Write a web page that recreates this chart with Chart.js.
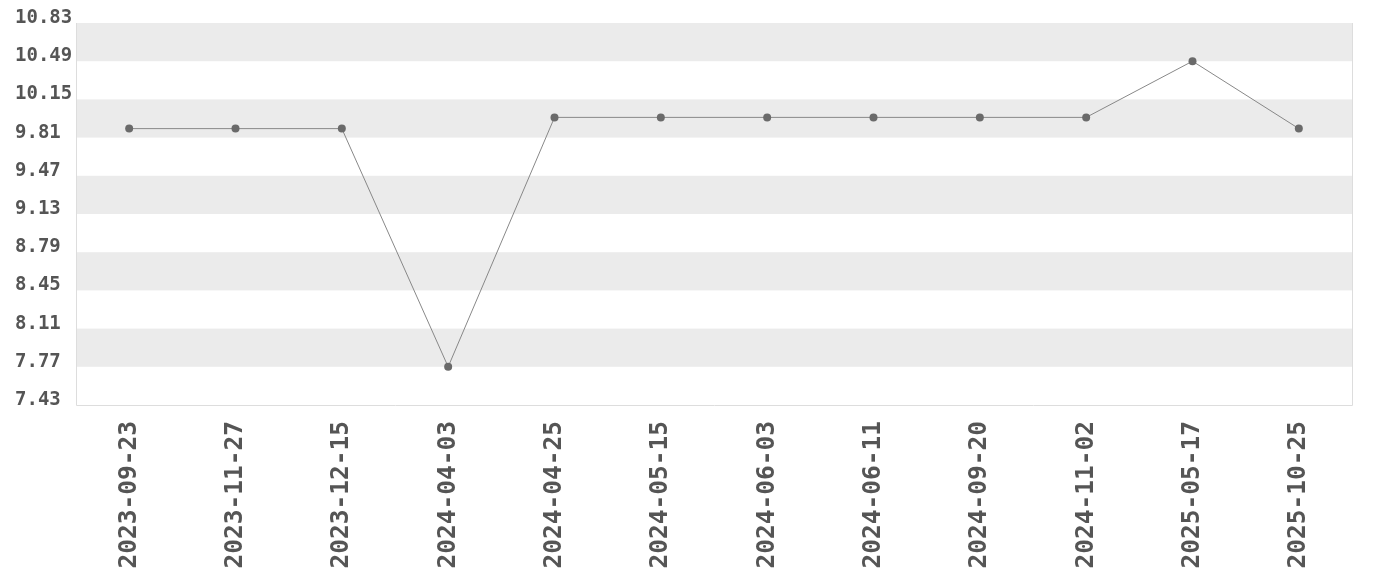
<!DOCTYPE html>
<html>
<head>
<meta charset="utf-8">
<script src="https://cdn.jsdelivr.net/npm/chart.js@4/dist/chart.umd.min.js"></script>
<style>
html,body{margin:0;padding:0;background:#fff;}
#wrap{width:1380px;height:580px;position:relative;}
</style>
</head>
<body>
<div id="wrap"><canvas id="c" width="1380" height="580"></canvas></div>
<script>
const categories = ["2023-09-23","2023-11-27","2023-12-15","2024-04-03","2024-04-25","2024-05-15","2024-06-03","2024-06-11","2024-09-20","2024-11-02","2025-05-17","2025-10-25"];
const values = [9.89, 9.89, 9.89, 7.77, 9.99, 9.99, 9.99, 9.99, 9.99, 9.99, 10.49, 9.89];
const yTicks = [7.43, 7.77, 8.11, 8.45, 8.79, 9.13, 9.47, 9.81, 10.15, 10.49, 10.83];

const bandPlugin = {
  id: 'bands',
  beforeDatasetsDraw(chart) {
    const {ctx, chartArea: a, scales: {y}} = chart;
    ctx.save();
    for (let i = 0; i < yTicks.length - 1; i++) {
      const top = y.getPixelForValue(yTicks[yTicks.length - 1 - i]);
      const bot = y.getPixelForValue(yTicks[yTicks.length - 2 - i]);
      if (i % 2 === 0) {
        ctx.fillStyle = '#ebebeb';
        ctx.fillRect(a.left, top, a.right - a.left, bot - top);
      }
    }
    ctx.strokeStyle = '#dddddd';
    ctx.lineWidth = 1;
    ctx.beginPath();
    ctx.moveTo(a.left + 0.5, a.top);
    ctx.lineTo(a.left + 0.5, a.bottom + 0.5);
    ctx.lineTo(a.right + 0.5, a.bottom + 0.5);
    ctx.lineTo(a.right + 0.5, a.top);
    ctx.stroke();
    ctx.restore();
  }
};

new Chart(document.getElementById('c'), {
  type: 'line',
  data: {
    labels: categories,
    datasets: [{
      data: values,
      borderColor: '#888888',
      borderWidth: 1,
      pointRadius: 4,
      pointBackgroundColor: '#6a6a6a',
      pointBorderColor: '#6a6a6a',
      pointBorderWidth: 0,
      tension: 0,
      fill: false
    }]
  },
  options: {
    responsive: false,
    animation: false,
    layout: {padding: {top: 23, right: 28, left: 15, bottom: 0}},
    plugins: {legend: {display: false}, tooltip: {enabled: false}},
    scales: {
      x: {
        offset: true,
        grid: {display: false, drawTicks: false},
        border: {display: false},
        ticks: {
          minRotation: 90, maxRotation: 90,
          color: '#555555',
          padding: 16,
          font: {family: 'DejaVu Sans Mono', size: 24.5, weight: 'bold'}
        },
        afterFit(s) { s.height = 175; }
      },
      y: {
        min: yTicks[0],
        max: yTicks[yTicks.length - 1],
        grid: {display: false, drawTicks: false},
        border: {display: false},
        afterBuildTicks(s) { s.ticks = yTicks.map(v => ({value: v})); },
        ticks: {
          color: '#555555',
          crossAlign: 'far',
          padding: 0,
          labelOffset: -5,
          font: {family: 'DejaVu Sans Mono', size: 19, weight: 'bold'},
          callback: v => Number(v).toFixed(2)
        },
        afterFit(s) { s.width = 61; }
      }
    }
  },
  plugins: [bandPlugin]
});
</script>
</body>
</html>
